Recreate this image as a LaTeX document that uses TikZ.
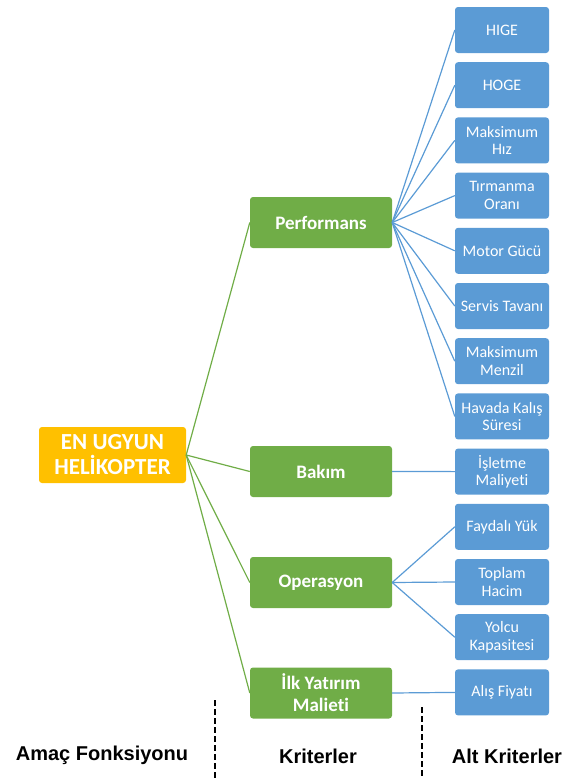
\documentclass[tikz,border=0pt]{standalone}
\usepackage{fontspec}
\setmainfont[Ligatures=NoCommon]{Carlito}
\newfontfamily\labelfont{Liberation Sans}
\definecolor{goalorange}{HTML}{FFC000}
\definecolor{critgreen}{HTML}{70AD47}
\definecolor{subblue}{HTML}{5B9BD5}
\begin{document}
\begin{tikzpicture}[
    x=1pt, y=-1pt,
    goal/.style={rectangle, rounded corners=3pt, fill=goalorange, text=white, font=\fontsize{23}{25}\selectfont\bfseries, align=center, minimum width=147pt, minimum height=56pt, inner sep=1pt},
    crit/.style={rectangle, rounded corners=3pt, fill=critgreen, text=white, font=\fontsize{19}{22}\selectfont\bfseries, align=center, minimum width=142pt, minimum height=51pt, inner sep=1pt},
    sub/.style={rectangle, rounded corners=3pt, fill=subblue, text=white, font=\fontsize{16}{17.5}\selectfont, align=center, minimum width=94pt, minimum height=46pt, inner sep=1pt},
    gline/.style={critgreen, line width=1.2pt},
    bline/.style={subblue, line width=1.2pt},
    level/.style={font=\labelfont\fontsize{20}{23}\selectfont\bfseries},
    sep/.style={black, line width=1.5pt, dash pattern=on 6pt off 3pt}
]
    \useasboundingbox (0,0) rectangle (580,779);

    % Goal
    \node[goal] (goal) at (112.5,455) {EN UGYUN\\HELİKOPTER};

    % Criteria
    \node[crit] (perf) at (321,222.5) {Performans};
    \node[crit] (bakim) at (321,471.5) {Bakım};
    \node[crit] (oper) at (321,582.5) {Operasyon};
    \node[crit] (yatirim) at (321,693) {İlk Yatırım\\Malieti};

    % Sub-criteria
    \node[sub] (hige) at (502,30) {HIGE};
    \node[sub] (hoge) at (502,85.2) {HOGE};
    \node[sub] (hiz) at (502,140.4) {Maksimum\\Hız};
    \node[sub] (tirm) at (502,195.6) {Tırmanma\\Oranı};
    \node[sub] (motor) at (502,250.8) {Motor Gücü};
    \node[sub] (tavan) at (502,306) {Servis Tavanı};
    \node[sub] (menzil) at (502,361.2) {Maksimum\\Menzil};
    \node[sub] (havada) at (502,416.4) {Havada Kalış\\Süresi};
    \node[sub] (isletme) at (502,471.6) {İşletme\\Maliyeti};
    \node[sub] (yuk) at (502,526.8) {Faydalı Yük};
    \node[sub] (hacim) at (502,582) {Toplam\\Hacim};
    \node[sub] (yolcu) at (502,637.2) {Yolcu\\Kapasitesi};
    \node[sub] (fiyat) at (502,692.4) {Alış Fiyatı};

    % Connectors
    \foreach \c in {perf,bakim,oper,yatirim}
        \draw[gline] (goal.east) -- (\c.west);
    \foreach \s in {hige,hoge,hiz,tirm,motor,tavan,menzil,havada}
        \draw[bline] (perf.east) -- (\s.west);
    \draw[bline] (bakim.east) -- (isletme.west);
    \foreach \s in {yuk,hacim,yolcu}
        \draw[bline] (oper.east) -- (\s.west);
    \draw[bline] (yatirim.east) -- (fiyat.west);

    % Levels
    \coordinate (sepa) at (215,700);
    \coordinate (sepb) at (215,779);
    \coordinate (sepc) at (422,707);
    \coordinate (sepd) at (422,779);
    \draw[sep] (sepa) -- (sepb);
    \draw[sep] (sepc) -- (sepd);
    \node[level] (lgoal) at (102,755) {Amaç Fonksiyonu};
    \node[level] (lcrit) at (318,756) {Kriterler};
    \node[level] (lsub) at (507,756) {Alt Kriterler};
\end{tikzpicture}
\end{document}
